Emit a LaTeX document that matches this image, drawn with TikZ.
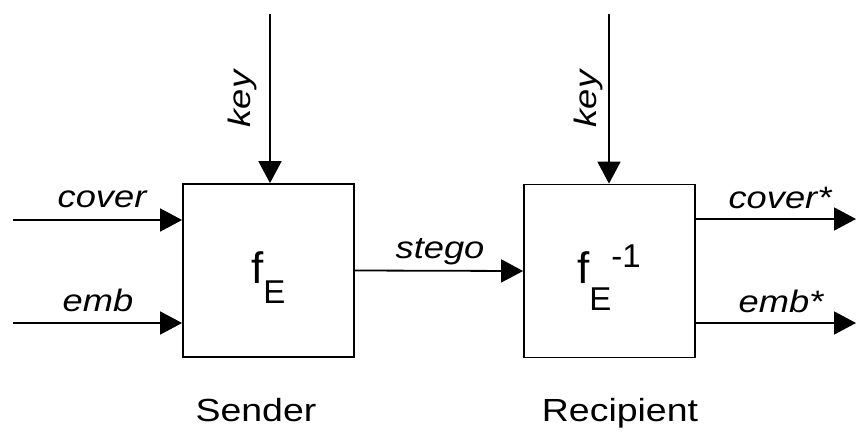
\documentclass[tikz,border=0pt]{standalone}
\usepackage{fontspec}
\setmainfont{Liberation Sans}[FakeStretch=1.17]
\newfontfamily\plainf{Liberation Sans}
\usetikzlibrary{arrows.meta}
\newcommand{\lblfont}{\fontsize{31}{36}\selectfont\itshape}
\newcommand{\capfont}{\fontsize{32}{36}\selectfont}
\newcommand{\bigf}{\plainf\fontsize{44}{44}\selectfont}
\newcommand{\smallE}{\plainf\fontsize{33}{33}\selectfont}
\begin{document}
\begin{tikzpicture}[x=1pt,y=-1pt,
  blk/.style={draw=black,line width=1.8pt,minimum width=171pt,minimum height=173pt,inner sep=0pt},
  arr/.style={line width=1.8pt,-{Triangle[length=22pt,width=23pt]}},
  lbl/.style={anchor=base,inner sep=0pt,font=\lblfont},
  captext/.style={anchor=base,inner sep=0pt,font=\capfont},
  fn/.style={anchor=base west,inner sep=0pt}]
\useasboundingbox (0,0) rectangle (857,437);
% boxes
\node[blk] (b1) at (268.5,270.5) {};
\node[blk] (b2) at (609.5,271) {};
% box contents
\node[fn] (f1) at (251,283) {{\bigf f}\raisebox{-20pt}{\smallE E}};
\node[fn] (f2) at (577,283) {{\bigf f}\raisebox{-27pt}{\smallE E}\raisebox{16pt}{\smallE -1}};
% free ends
\coordinate (cin) at (13,220);
\coordinate (ein) at (13,323);
\coordinate (k1) at (270,14);
\coordinate (k2) at (609,14);
\coordinate (cout) at (856,219);
\coordinate (eout) at (856,323);
% connectors
\draw[arr] (cin) -- (cin -| b1.west);
\draw[arr] (ein) -- (ein -| b1.west);
\draw[arr] (k1) -- (k1 |- b1.north);
\draw[arr] (k2) -- (k2 |- b2.north);
\draw[arr] (b1.east) -- (b2.west);
\draw[arr] (cout -| b2.east) -- (cout);
\draw[arr] (eout -| b2.east) -- (eout);
% labels
\node[lbl] (lc) at (102,207) {cover};
\node[lbl] (le) at (98,311) {emb};
\node[lbl] (ls) at (440,258) {stego};
\node[lbl] (lco) at (780,208) {cover*};
\node[lbl] (leo) at (781,312) {emb*};
\node[lbl,anchor=center,rotate=90] (lk1) at (242,99) {key};
\node[lbl,anchor=center,rotate=90] (lk2) at (588,99) {key};
\node[captext] (snd) at (256,421) {Sender};
\node[captext] (rcp) at (620,421) {Recipient};
\end{tikzpicture}
\end{document}
